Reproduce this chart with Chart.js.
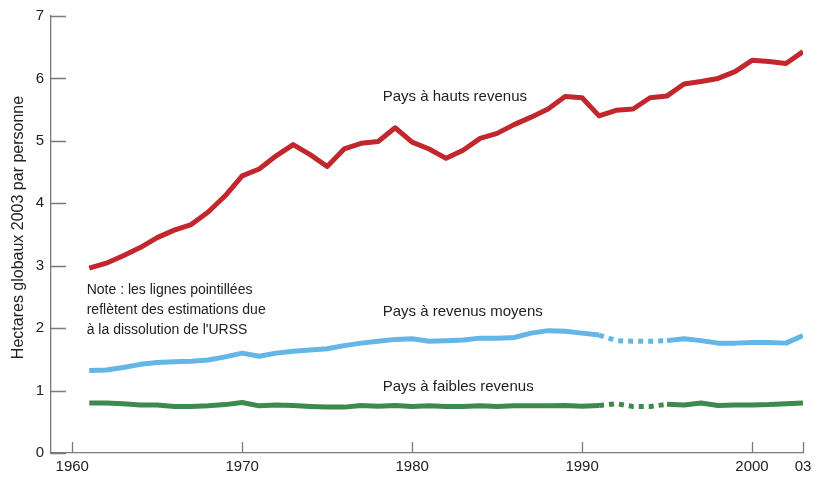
<!DOCTYPE html>
<html>
<head>
<meta charset="utf-8">
<script src="https://cdn.jsdelivr.net/npm/chart.js@4.4.0/dist/chart.umd.min.js"></script>
<style>
  html, body { margin: 0; padding: 0; background: #fff; }
  #wrap { width: 831px; height: 482px; }
</style>
</head>
<body>
<div id="wrap"><canvas id="chart"></canvas></div>
<script>
const years = [1961, 1962, 1963, 1964, 1965, 1966, 1967, 1968, 1969, 1970,
  1971, 1972, 1973, 1974, 1975, 1976, 1977, 1978, 1979, 1980,
  1981, 1982, 1983, 1984, 1985, 1986, 1987, 1988, 1989, 1990,
  1991, 1992, 1993, 1994, 1995, 1996, 1997, 1998, 1999, 2000,
  2001, 2002, 2003];

const highIncome = [2.96, 3.04, 3.16, 3.29, 3.45, 3.57, 3.66, 3.86, 4.12, 4.44,
  4.55, 4.76, 4.94, 4.78, 4.59, 4.87, 4.96, 4.99, 5.21, 4.98,
  4.87, 4.72, 4.85, 5.04, 5.12, 5.26, 5.38, 5.51, 5.71, 5.69,
  5.40, 5.49, 5.51, 5.69, 5.72, 5.91, 5.95, 6.00, 6.11, 6.29,
  6.27, 6.24, 6.43];

const middleIncome = [1.32, 1.33, 1.37, 1.42, 1.45, 1.46, 1.47, 1.49, 1.54, 1.60,
  1.55, 1.60, 1.63, 1.65, 1.67, 1.72, 1.76, 1.79, 1.82, 1.83,
  1.79, 1.80, 1.81, 1.84, 1.84, 1.85, 1.92, 1.96, 1.95, 1.92,
  1.89, 1.80, 1.79, 1.79, 1.80, 1.83, 1.80, 1.76, 1.76, 1.77,
  1.77, 1.76, 1.88];

const lowIncome = [0.80, 0.80, 0.79, 0.77, 0.77, 0.745, 0.745, 0.755, 0.775, 0.81,
  0.755, 0.77, 0.76, 0.745, 0.735, 0.735, 0.76, 0.75, 0.76, 0.745,
  0.755, 0.745, 0.745, 0.755, 0.745, 0.755, 0.755, 0.755, 0.76, 0.75,
  0.76, 0.79, 0.745, 0.745, 0.78, 0.77, 0.80, 0.76, 0.77, 0.77,
  0.775, 0.79, 0.80];

const xTicks = [1960, 1970, 1980, 1990, 2000, 2003];
const xTickLabels = ['1960', '1970', '1980', '1990', '2000', '03'];
const yTicks = [0, 1, 2, 3, 4, 5, 6, 7];

const seriesNames = ['Pays à hauts revenus', 'Pays à revenus moyens', 'Pays à faibles revenus'];
const yTitle = 'Hectares globaux 2003 par personne';
const noteLines = ['Note : les lignes pointillées', 'reflètent des estimations due', 'à la dissolution de l\'URSS'];

// years estimated after the USSR breakup (drawn dotted)
const estimatedFrom = 1991;
const estimatedTo = 1995;

const toPoints = (vals) => years.map((yr, i) => ({ x: yr, y: vals[i] }));

const dotted = (ctx) =>
  ctx.p0.parsed.x >= estimatedFrom && ctx.p1.parsed.x <= estimatedTo ? [5, 5] : undefined;

const axisMarks = {
  id: 'axisMarks',
  beforeDatasetsDraw(chart) {
    const { ctx, chartArea, scales } = chart;
    ctx.save();
    ctx.strokeStyle = '#7a7a7a';
    ctx.lineWidth = 1.3;
    ctx.beginPath();
    scales.y.ticks.forEach((t) => {
      const py = Math.round(scales.y.getPixelForValue(t.value)) + 0.5;
      ctx.moveTo(chartArea.left, py);
      ctx.lineTo(chartArea.left + 15, py);
    });
    scales.x.ticks.forEach((t) => {
      const px = Math.round(scales.x.getPixelForValue(t.value)) + 0.5;
      ctx.moveTo(px, chartArea.bottom);
      ctx.lineTo(px, chartArea.bottom - 11);
    });
    ctx.stroke();
    ctx.restore();
  },
  afterDraw(chart) {
    const { ctx, chartArea, scales } = chart;
    const { x, y } = scales;
    ctx.save();
    ctx.fillStyle = '#222';
    ctx.textBaseline = 'middle';
    ctx.textAlign = 'left';

    ctx.font = '15px "Liberation Sans", Arial, sans-serif';
    ctx.fillText(seriesNames[0], x.getPixelForValue(1978.27), y.getPixelForValue(5.70));
    ctx.fillText(seriesNames[1], x.getPixelForValue(1978.27), y.getPixelForValue(2.265));
    ctx.fillText(seriesNames[2], x.getPixelForValue(1978.27), y.getPixelForValue(1.065));

    ctx.font = '14px "Liberation Sans", Arial, sans-serif';
    const noteX = x.getPixelForValue(1960.85);
    [2.61, 2.29, 1.97].forEach((v, i) => {
      ctx.fillText(noteLines[i], noteX, y.getPixelForValue(v));
    });

    ctx.font = '16px "Liberation Sans", Arial, sans-serif';
    ctx.textAlign = 'center';
    ctx.translate(19, (chartArea.top + chartArea.bottom) / 2 - 7);
    ctx.rotate(-Math.PI / 2);
    ctx.fillText(yTitle, 0, 0);
    ctx.restore();
  }
};

new Chart(document.getElementById('chart'), {
  type: 'line',
  data: {
    datasets: [
      {
        label: seriesNames[0],
        data: toPoints(highIncome),
        borderColor: '#c1272d',
        borderWidth: 5
      },
      {
        label: seriesNames[1],
        data: toPoints(middleIncome),
        borderColor: '#63b6e6',
        borderWidth: 5,
        segment: { borderDash: dotted }
      },
      {
        label: seriesNames[2],
        data: toPoints(lowIncome),
        borderColor: '#3d8a4d',
        borderWidth: 5,
        segment: { borderDash: dotted }
      }
    ]
  },
  options: {
    responsive: true,
    maintainAspectRatio: false,
    animation: false,
    elements: {
      point: { radius: 0, hoverRadius: 0 },
      line: { tension: 0, borderJoinStyle: 'round' }
    },
    layout: { padding: { top: 15, right: 28, left: 0, bottom: 0 } },
    plugins: {
      legend: { display: false },
      tooltip: { enabled: false }
    },
    scales: {
      x: {
        type: 'linear',
        min: 1958.75,
        max: 2003,
        afterBuildTicks: (scale) => {
          scale.ticks = xTicks.map((v) => ({ value: v }));
        },
        afterFit: (scale) => {
          scale.height = 29;
        },
        grid: { display: false, drawTicks: false },
        border: { display: true, color: '#7a7a7a', width: 1.3 },
        ticks: {
          padding: 5,
          color: '#222',
          font: { size: 15, family: '"Liberation Sans", Arial, sans-serif' },
          maxRotation: 0,
          autoSkip: false,
          callback: (v) => xTickLabels[xTicks.indexOf(v)]
        }
      },
      y: {
        min: 0,
        max: 7,
        afterBuildTicks: (scale) => {
          scale.ticks = yTicks.map((v) => ({ value: v }));
        },
        afterFit: (scale) => {
          scale.width = 51;
        },
        grid: { display: false, drawTicks: false },
        border: { display: true, color: '#7a7a7a', width: 1.3 },
        ticks: {
          padding: 7,
          color: '#222',
          font: { size: 15, family: '"Liberation Sans", Arial, sans-serif' }
        }
      }
    }
  },
  plugins: [axisMarks]
});
</script>
</body>
</html>
